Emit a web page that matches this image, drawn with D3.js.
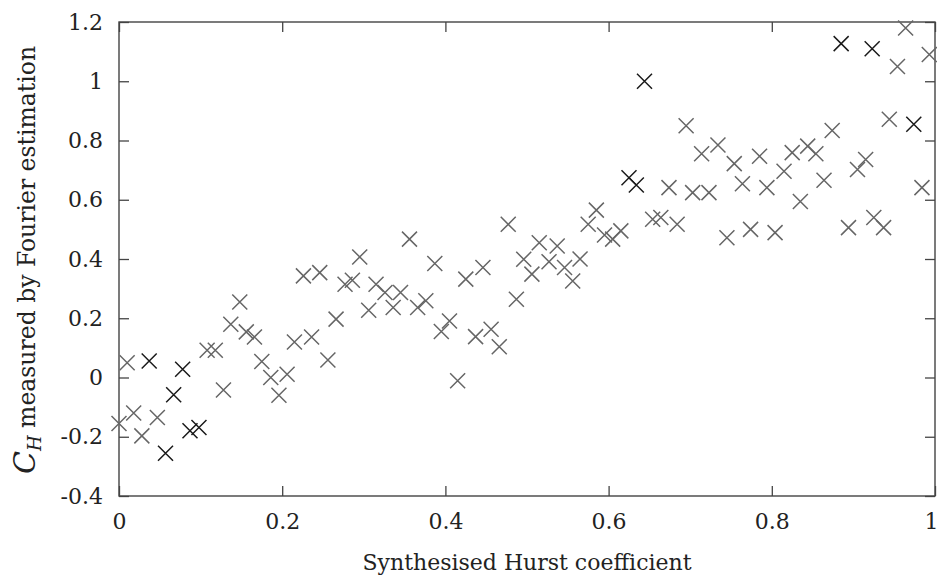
<!DOCTYPE html>
<html>
<head>
<meta charset="utf-8">
<script src="https://cdn.jsdelivr.net/npm/d3@7"></script>
<style>
  body { margin: 0; background: #fff; }
  svg text { font-family: "DejaVu Serif", "Liberation Serif", serif; fill: #222; }
</style>
</head>
<body>
<svg id="chart" width="937" height="580"></svg>
<script>
// synthesised Hurst coefficient (x) and Fourier estimate (y)
var hurstX = [0.000, 0.010, 0.018, 0.028, 0.037, 0.047, 0.057, 0.067, 0.078, 0.087,
              0.098, 0.108, 0.118, 0.128, 0.137, 0.148, 0.156, 0.166, 0.175, 0.186,
              0.196, 0.206, 0.215, 0.226, 0.236, 0.246, 0.256, 0.266, 0.277, 0.286,
              0.295, 0.306, 0.315, 0.326, 0.336, 0.345, 0.356, 0.366, 0.376, 0.387,
              0.395, 0.405, 0.415, 0.425, 0.437, 0.446, 0.456, 0.466, 0.477, 0.487,
              0.496, 0.506, 0.515, 0.527, 0.537, 0.546, 0.556, 0.565, 0.575, 0.585,
              0.595, 0.605, 0.615, 0.625, 0.634, 0.644, 0.654, 0.664, 0.674, 0.684,
              0.695, 0.703, 0.714, 0.723, 0.734, 0.745, 0.754, 0.764, 0.774, 0.785,
              0.794, 0.804, 0.815, 0.825, 0.835, 0.844, 0.854, 0.864, 0.874, 0.885,
              0.894, 0.905, 0.915, 0.923, 0.925, 0.937, 0.944, 0.954, 0.964, 0.974,
              0.984, 0.993];
var fourierY = [-0.155, 0.050, -0.120, -0.197, 0.056, -0.135, -0.256, -0.058, 0.028, -0.180,
                -0.169, 0.092, 0.092, -0.042, 0.180, 0.255, 0.154, 0.137, 0.054, 0.000,
                -0.060, 0.011, 0.120, 0.343, 0.137, 0.354, 0.059, 0.197, 0.315, 0.328,
                0.407, 0.227, 0.315, 0.287, 0.236, 0.287, 0.467, 0.236, 0.259, 0.385,
                0.155, 0.191, -0.011, 0.332, 0.138, 0.371, 0.163, 0.104, 0.517, 0.264,
                0.399, 0.349, 0.455, 0.391, 0.444, 0.371, 0.326, 0.400, 0.517, 0.565,
                0.481, 0.467, 0.495, 0.674, 0.650, 1.000, 0.534, 0.540, 0.641, 0.517,
                0.850, 0.624, 0.755, 0.624, 0.785, 0.472, 0.722, 0.654, 0.500, 0.747,
                0.641, 0.489, 0.696, 0.759, 0.594, 0.781, 0.755, 0.666, 0.834, 1.127,
                0.506, 0.702, 0.736, 1.110, 0.540, 0.506, 0.872, 1.050, 1.180, 0.855,
                0.641, 1.090];
// 1 = drawn darker in the figure
var darkMark = [0, 0, 0, 0, 1, 0, 1, 1, 1, 1,
                1, 0, 0, 0, 0, 0, 0, 0, 0, 0,
                0, 0, 0, 0, 0, 0, 0, 0, 0, 0,
                0, 0, 0, 0, 0, 0, 0, 0, 0, 0,
                0, 0, 0, 0, 0, 0, 0, 0, 0, 0,
                0, 0, 0, 0, 0, 0, 0, 0, 0, 0,
                0, 0, 0, 1, 1, 1, 0, 0, 0, 0,
                0, 0, 0, 0, 0, 0, 0, 0, 0, 0,
                0, 0, 0, 0, 0, 0, 0, 0, 0, 1,
                0, 0, 0, 1, 0, 0, 0, 0, 0, 1,
                0, 0];
var xTicks = [0, 0.2, 0.4, 0.6, 0.8, 1];
var yTicks = [-0.4, -0.2, 0, 0.2, 0.4, 0.6, 0.8, 1, 1.2];

var margin = { top: 22, right: 2, bottom: 84, left: 119 };
var width = 937 - margin.left - margin.right;
var height = 580 - margin.top - margin.bottom;

var svg = d3.select("#chart")
  .append("g")
    .attr("transform", "translate(" + margin.left + "," + margin.top + ")");

var x = d3.scaleLinear().domain([0, 1]).range([0, width]);
var y = d3.scaleLinear().domain([-0.4, 1.2]).range([height, 0]);

// plain hyphen for negatives, like the original
var fmt = function(d) { return String(+d.toFixed(1)); };
var tickLen = 10;
var fs = 22;

// bottom and left axes, ticks pointing inwards
svg.append("g")
    .attr("transform", "translate(0," + height + ")")
    .call(d3.axisBottom(x).tickValues(xTicks).tickFormat(fmt).tickSizeInner(-tickLen).tickSizeOuter(0).tickPadding(17))
    .call(function(g) {
      g.select(".domain").remove();
      g.selectAll("text").attr("font-size", fs);
      // last label sits at the window edge, pull it in a little
      g.selectAll("text").filter(function(d) { return d === 1; }).attr("dx", -4);
    });

svg.append("g")
    .call(d3.axisLeft(y).tickValues(yTicks).tickFormat(fmt).tickSizeInner(-tickLen).tickSizeOuter(0).tickPadding(16))
    .call(function(g) {
      g.select(".domain").remove();
      g.selectAll("text").attr("font-size", fs);
    });

// mirrored ticks on top and right
svg.append("g")
    .call(d3.axisTop(x).tickValues(xTicks).tickFormat("").tickSizeInner(-tickLen).tickSizeOuter(0))
    .call(function(g) { g.select(".domain").remove(); });
svg.append("g")
    .attr("transform", "translate(" + width + ",0)")
    .call(d3.axisRight(y).tickValues(yTicks).tickFormat("").tickSizeInner(-tickLen).tickSizeOuter(0))
    .call(function(g) { g.select(".domain").remove(); });

svg.selectAll(".tick line").attr("stroke", "#444").attr("stroke-width", 1.3);

// frame
svg.append("rect")
    .attr("width", width)
    .attr("height", height)
    .attr("fill", "none")
    .attr("stroke", "#444")
    .attr("stroke-width", 1.4);

// cross markers
var pts = hurstX.map(function(v, i) { return { h: v, c: fourierY[i], dark: darkMark[i] }; });
var s = 7.5;
svg.append("g")
  .selectAll("path")
  .data(pts)
  .enter().append("path")
    .attr("d", function(d) {
      var px = x(d.h), py = y(d.c);
      return "M" + (px - s) + "," + (py - s) + "L" + (px + s) + "," + (py + s) +
             "M" + (px - s) + "," + (py + s) + "L" + (px + s) + "," + (py - s);
    })
    .attr("fill", "none")
    .attr("stroke", function(d) { return d.dark ? "#1a1a1a" : "#666"; })
    .attr("stroke-width", 1.5);

// axis titles
svg.append("text")
    .attr("x", width / 2)
    .attr("y", height + 74)
    .attr("text-anchor", "middle")
    .attr("font-size", fs)
    .text("Synthesised Hurst coefficient");

var yl = svg.append("text")
    .attr("transform", "translate(-84," + (height / 2 + 1) + ") rotate(-90)")
    .attr("text-anchor", "middle")
    .attr("font-size", 23.5);
yl.append("tspan").attr("font-style", "italic").attr("font-size", 30).text("C");
yl.append("tspan").attr("font-style", "italic").attr("font-size", 18).attr("dy", 6).text("H");
yl.append("tspan").attr("dy", -6).text(" measured by Fourier estimation");
</script>
</body>
</html>
